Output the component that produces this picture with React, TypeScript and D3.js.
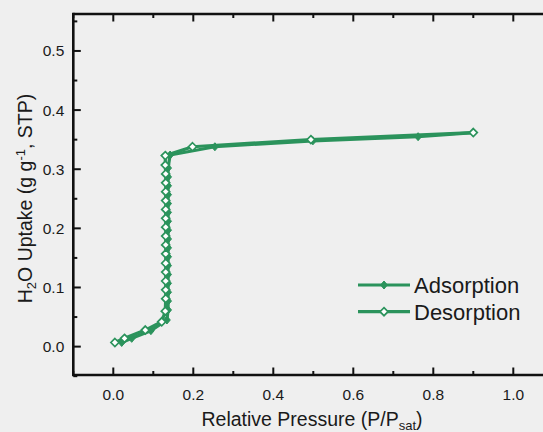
import React from "react";
import * as d3 from "d3";

const adsorptionX = [0.021, 0.046, 0.094, 0.134, 0.137, 0.137, 0.137, 0.137, 0.137, 0.137, 0.137, 0.137, 0.137, 0.137, 0.137, 0.137, 0.137, 0.137, 0.137, 0.137, 0.137, 0.142, 0.254, 0.499, 0.762, 0.9];
const adsorptionY = [0.007, 0.014, 0.027, 0.045, 0.062, 0.077, 0.092, 0.107, 0.122, 0.137, 0.152, 0.167, 0.182, 0.197, 0.212, 0.227, 0.242, 0.257, 0.272, 0.287, 0.302, 0.324, 0.338, 0.348, 0.355, 0.362];

const desorptionX = [0.9, 0.494, 0.198, 0.130, 0.130, 0.131, 0.131, 0.131, 0.131, 0.131, 0.131, 0.131, 0.131, 0.131, 0.131, 0.131, 0.131, 0.131, 0.131, 0.131, 0.130, 0.121, 0.080, 0.028, 0.004];
const desorptionY = [0.362, 0.350, 0.338, 0.323, 0.307, 0.292, 0.277, 0.262, 0.247, 0.232, 0.217, 0.202, 0.187, 0.172, 0.157, 0.141, 0.126, 0.111, 0.096, 0.081, 0.060, 0.042, 0.028, 0.014, 0.007];

const xTicks = [0.0, 0.2, 0.4, 0.6, 0.8, 1.0];
const xMinorTicks = [-0.1, 0.1, 0.3, 0.5, 0.7, 0.9, 1.1];
const yTicks = [0.0, 0.1, 0.2, 0.3, 0.4, 0.5];
const yMinorTicks = [-0.05, 0.05, 0.15, 0.25, 0.35, 0.45, 0.55];

const GREEN = "#2b935c";
const TEXT = "#1a1a1a";
const FONT = "Liberation Sans, Arial, sans-serif";

function diamond(r: number, w: number) {
  return `M0,${-r}L${w},0L0,${r}L${-w},0Z`;
}

export default function App() {
  const W = 543, H = 432;
  const left = 73.3, top = 14, bottom = 375, right = 553.3;
  const x = d3.scaleLinear().domain([-0.1, 1.1]).range([left, right]);
  const y = d3.scaleLinear().domain([-0.048, 0.5625]).range([bottom, top]);

  const ads = adsorptionX.map((v, i) => [v, adsorptionY[i]] as [number, number]);
  const des = desorptionX.map((v, i) => [v, desorptionY[i]] as [number, number]);
  const line = d3.line<[number, number]>().x(d => x(d[0])).y(d => y(d[1]));

  const axisW = 2.6;
  const major = 7.5, minor = 4;

  return (
    <svg width={W} height={H} style={{ position: "absolute", left: 0, top: 0, background: "#efefef" }}>
      <rect x={0} y={0} width={W} height={H} fill="#efefef" />
      {/* axes lines */}
      <line x1={left} x2={right + 2} y1={top} y2={top} stroke="#111" strokeWidth={axisW} />
      <line x1={left} x2={right + 2} y1={bottom} y2={bottom} stroke="#111" strokeWidth={axisW} />
      <line x1={left} x2={left} y1={top - 1.3} y2={bottom + 1.3} stroke="#111" strokeWidth={axisW} />
      {/* x ticks */}
      {xTicks.map(t => (
        <g key={"xt" + t}>
          <line x1={x(t)} x2={x(t)} y1={bottom} y2={bottom - major} stroke="#111" strokeWidth={2} />
          <line x1={x(t)} x2={x(t)} y1={top} y2={top + major} stroke="#111" strokeWidth={2} />
          <text x={x(t)} y={bottom + 24.5} textAnchor="middle" fontFamily={FONT} fontSize={15.5} fill={TEXT}>{t.toFixed(1)}</text>
        </g>
      ))}
      {xMinorTicks.map(t => (
        <g key={"xm" + t}>
          <line x1={x(t)} x2={x(t)} y1={bottom} y2={bottom - minor} stroke="#111" strokeWidth={2} />
          <line x1={x(t)} x2={x(t)} y1={top} y2={top + minor} stroke="#111" strokeWidth={2} />
        </g>
      ))}
      {/* y ticks */}
      {yTicks.map(t => (
        <g key={"yt" + t}>
          <line x1={left} x2={left + major} y1={y(t)} y2={y(t)} stroke="#111" strokeWidth={2} />
          <text x={left - 9} y={y(t) + 5.5} textAnchor="end" fontFamily={FONT} fontSize={15.5} fill={TEXT}>{t.toFixed(1)}</text>
        </g>
      ))}
      {yMinorTicks.map(t => (
        <line key={"ym" + t} x1={left} x2={left + minor} y1={y(t)} y2={y(t)} stroke="#111" strokeWidth={2} />
      ))}
      {/* series */}
      <path d={line(ads) || ""} fill="none" stroke={GREEN} strokeWidth={3.2} strokeLinejoin="round" />
      <path d={line(des) || ""} fill="none" stroke={GREEN} strokeWidth={3.2} strokeLinejoin="round" />
      {ads.map((d, i) => (
        <path key={"a" + i} d={diamond(4, 3.4)} transform={`translate(${x(d[0])},${y(d[1])})`} fill={GREEN} stroke={GREEN} strokeWidth={1} />
      ))}
      {des.map((d, i) => (
        <path key={"d" + i} d={diamond(4, 4)} transform={`translate(${x(d[0])},${y(d[1])})`} fill="#ffffff" stroke={GREEN} strokeWidth={1.7} />
      ))}
      {/* legend */}
      <line x1={358} x2={410} y1={285} y2={285} stroke={GREEN} strokeWidth={3.2} />
      <path d={diamond(4, 3.4)} transform="translate(384,285)" fill={GREEN} stroke={GREEN} strokeWidth={1} />
      <text x={414} y={293} fontFamily={FONT} fontSize={22} fill={TEXT}>Adsorption</text>
      <line x1={358} x2={410} y1={311.7} y2={311.7} stroke={GREEN} strokeWidth={3.2} />
      <path d={diamond(4, 4)} transform="translate(384,311.7)" fill="#ffffff" stroke={GREEN} strokeWidth={1.7} />
      <text x={414} y={319.7} fontFamily={FONT} fontSize={22} fill={TEXT}>Desorption</text>
      {/* axis titles */}
      <text x={312} y={426} textAnchor="middle" fontFamily={FONT} fontSize={19.5} fill={TEXT}>
        Relative Pressure (P/P<tspan fontSize={13} dy={4}>sat</tspan><tspan dy={-4}>)</tspan>
      </text>
      <text transform={`translate(32,${(top + bottom) / 2 + 4}) rotate(-90)`} textAnchor="middle" fontFamily={FONT} fontSize={19.5} fill={TEXT}>
        H<tspan fontSize={13} dy={4}>2</tspan><tspan dy={-4}>O Uptake (g g</tspan><tspan fontSize={13} dy={-7}>-1</tspan><tspan dy={7}>, STP)</tspan>
      </text>
    </svg>
  );
}
